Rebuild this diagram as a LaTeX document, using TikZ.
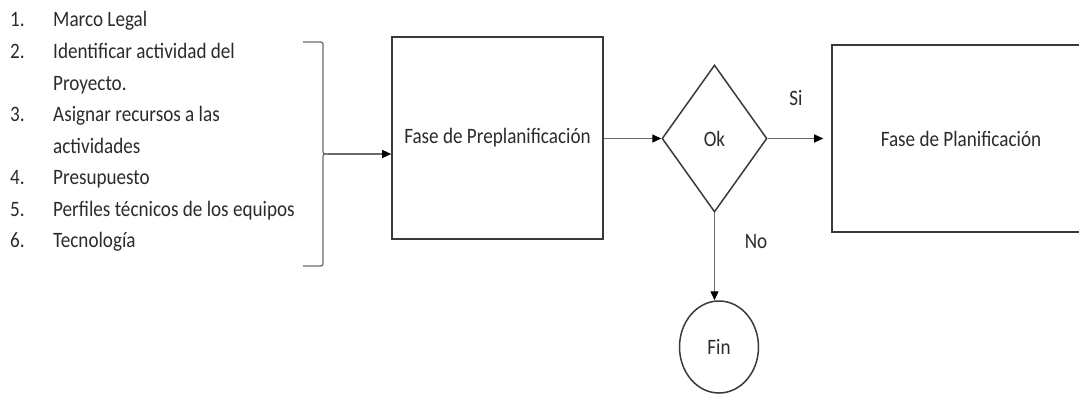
\documentclass[tikz,border=0pt]{standalone}
\usepackage{fontspec}
\setmainfont{Carlito}[FakeStretch=0.87]
\usetikzlibrary{arrows.meta,shapes.geometric}
\definecolor{edge}{HTML}{3A3A3A}
\definecolor{wire}{HTML}{6A6A6A}
\definecolor{ink}{HTML}{2B2B2B}
\begin{document}
\begin{tikzpicture}[x=1pt,y=-1pt,
  every node/.style={text=ink,font=\fontsize{22}{25}\selectfont},
  phase/.style={draw=edge,line width=1.6pt,inner sep=0pt},
  decision/.style={diamond,draw=edge,line width=1.5pt,inner sep=0pt,
    minimum width=105pt,minimum height=147pt},
  terminal/.style={ellipse,draw=edge,line width=1.5pt,inner sep=0pt,
    minimum width=79pt,minimum height=92pt},
  flow/.style={draw=wire,line width=1.3pt,
    -{Triangle[length=9pt,width=8pt,fill=black,color=black]}},
  item/.style={anchor=west,inner sep=0pt,text height=14.5pt,text depth=4.5pt},
  bracket/.style={draw=wire,line width=1.3pt}]
\useasboundingbox (0,0) rectangle (1079,396);

% list of inputs
\foreach \n/\y/\t in {1./22/{Marco Legal},2./53.5/{Identificar actividad del},
    /85/{Proyecto.},3./116.5/{Asignar recursos a las},/148/{actividades},
    4./179.5/{Presupuesto},5./211/{Perfiles técnicos de los equipos},
    6./242.5/{Tecnología}}{
  \node[item] (num\y) at (10,\y) {\n};
  \node[item] (txt\y) at (53,\y) {\t};
}

% closing bracket grouping the list
\coordinate (brtip) at (328,154);
\draw[bracket] (303,42) -- (318,42) .. controls (323,42) .. (323,47)
  -- (323,149) .. controls (323,154) .. (brtip);
\draw[bracket] (brtip) .. controls (323,154) .. (323,159)
  -- (323,261) .. controls (323,266) .. (318,266) -- (303,266);

% process nodes
\node[phase,minimum width=211pt,minimum height=202pt] (pre) at (497.5,138) {Fase de Preplanificación};
\node[decision] (ok) at (714.5,138.5) {Ok};
\node[phase,minimum width=258pt,minimum height=187pt] (plan) at (961,138.5) {Fase de Planificación};
\node[terminal] (fin) at (719,347) {Fin};

% connectors
\draw[flow] (brtip) -- (brtip -| pre.west);
\draw[flow] (pre.east |- ok.west) -- (ok.west);
\draw[flow] (ok.east) -- ([xshift=-8pt]plan.west);
\draw[flow] (ok.south) -- (ok.south |- fin.north);

% branch labels
\node (si) at (796,98) {Si};
\node (no) at (756,242) {No};
\end{tikzpicture}
\end{document}
